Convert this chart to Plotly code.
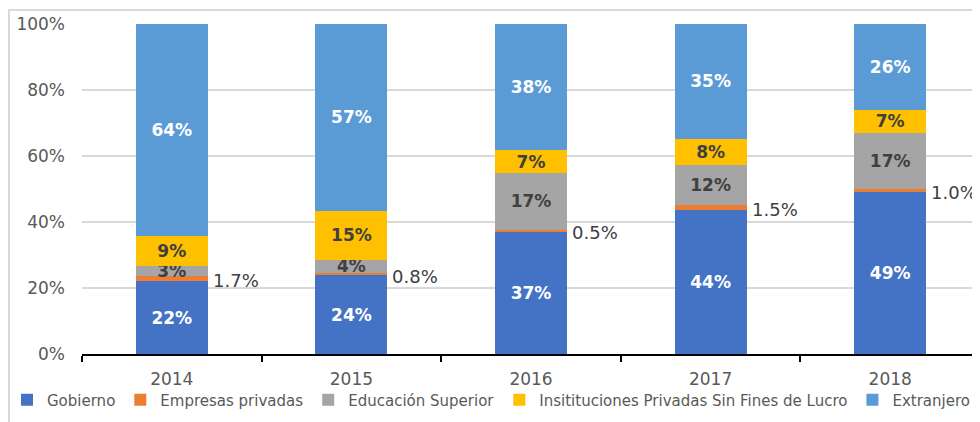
import plotly.graph_objects as go

YEARS = ["2014", "2015", "2016", "2017", "2018"]
GOBIERNO = [22, 24, 37, 44, 49]
EMPRESAS = [1.7, 0.8, 0.5, 1.5, 1.0]
EDUCACION = [3, 4, 17, 12, 17]
IPSFL = [9, 15, 7, 8, 7]
EXTRANJERO = [64, 57, 38, 35, 26]

# Excel-like colours
BLUE = '#4472C4'
ORANGE = '#ED7D31'
GRAY = '#A5A5A5'
GOLD = '#FFC000'
LIGHT_BLUE = '#5B9BD5'
TEXT_DARK = '#404040'
AXIS_TEXT = '#595959'
GRID = '#D9D9D9'
FONT = 'DejaVu Sans'

# page body has an 8px default margin, so the figure sits 8px right/down
W, H = 980, 422
L, R, T, B = 74, 8, 16, 76
PLOT_W = W - L - R
PLOT_H = H - T - B

series = [
    ('Gobierno', GOBIERNO, BLUE, 'white'),
    ('Empresas privadas', EMPRESAS, ORANGE, None),
    ('Educación Superior', EDUCACION, GRAY, TEXT_DARK),
    ('Insitituciones Privadas Sin Fines de Lucro', IPSFL, GOLD, TEXT_DARK),
    ('Extranjero', EXTRANJERO, LIGHT_BLUE, 'white'),
]

fig = go.Figure()
for name, vals, color, txtcolor in series:
    if txtcolor is None:
        fig.add_trace(go.Bar(
            x=YEARS, y=vals, name=name, marker=dict(color=color, line=dict(width=0)),
            textposition='none',
        ))
    else:
        fig.add_trace(go.Bar(
            x=YEARS, y=vals, name=name, marker=dict(color=color, line=dict(width=0)),
            text=[f'{v:.0f}%' for v in vals],
            textposition='inside', insidetextanchor='middle',
            textangle=0, constraintext='none',
            textfont=dict(family=FONT, size=17, color=txtcolor, weight='bold'),
        ))

# outside labels for the thin "Empresas privadas" segment
totals = [sum(s[1][i] for s in series) for i in range(len(YEARS))]
for i in range(len(YEARS)):
    ypos = (GOBIERNO[i] + EMPRESAS[i] / 2) / totals[i] * 100
    fig.add_annotation(
        x=i, y=ypos, text=f'{EMPRESAS[i]:.1f}%', showarrow=False,
        xanchor='left', yanchor='middle', xshift=39, yshift=-2,
        font=dict(family=FONT, size=18, color=TEXT_DARK),
    )

# chart area border (top and left edges visible)
fig.add_shape(
    type='rect', xref='paper', yref='paper',
    x0=(1 - L) / PLOT_W, x1=1.2, y0=-0.4, y1=(PLOT_H + T - 2) / PLOT_H,
    line=dict(color=GRID, width=2), fillcolor='rgba(0,0,0,0)', layer='below',
)

fig.update_layout(
    width=W, height=H,
    barmode='stack', barnorm='percent', bargap=0.6,
    paper_bgcolor='white', plot_bgcolor='white',
    margin=dict(l=L, r=R, t=T, b=B, autoexpand=False),
    font=dict(family=FONT, color=AXIS_TEXT),
    showlegend=True,
    legend=dict(
        orientation='h', traceorder='normal', x=(-1 - L) / PLOT_W, xanchor='left',
        y=-46 / PLOT_H, yanchor='middle',
        font=dict(family=FONT, size=15, color=AXIS_TEXT),
        itemwidth=30, bgcolor='rgba(0,0,0,0)',
    ),
    xaxis=dict(
        type='category', range=[-0.5, len(YEARS) - 0.5], automargin=False,
        showgrid=False, showline=True, linecolor='black', linewidth=2,
        ticks='outside', tickson='boundaries', ticklen=6, tickcolor='black', tickwidth=2,
        tickfont=dict(family=FONT, size=17, color=AXIS_TEXT),
        ticklabelstandoff=9,
    ),
    yaxis=dict(
        range=[0, 100], dtick=20, ticksuffix='%', automargin=False,
        showgrid=True, gridcolor=GRID, gridwidth=2, zeroline=False, showline=False,
        tickfont=dict(family=FONT, size=17, color=AXIS_TEXT),
        ticklabelstandoff=16,
    ),
)

fig.write_html("out.html")
